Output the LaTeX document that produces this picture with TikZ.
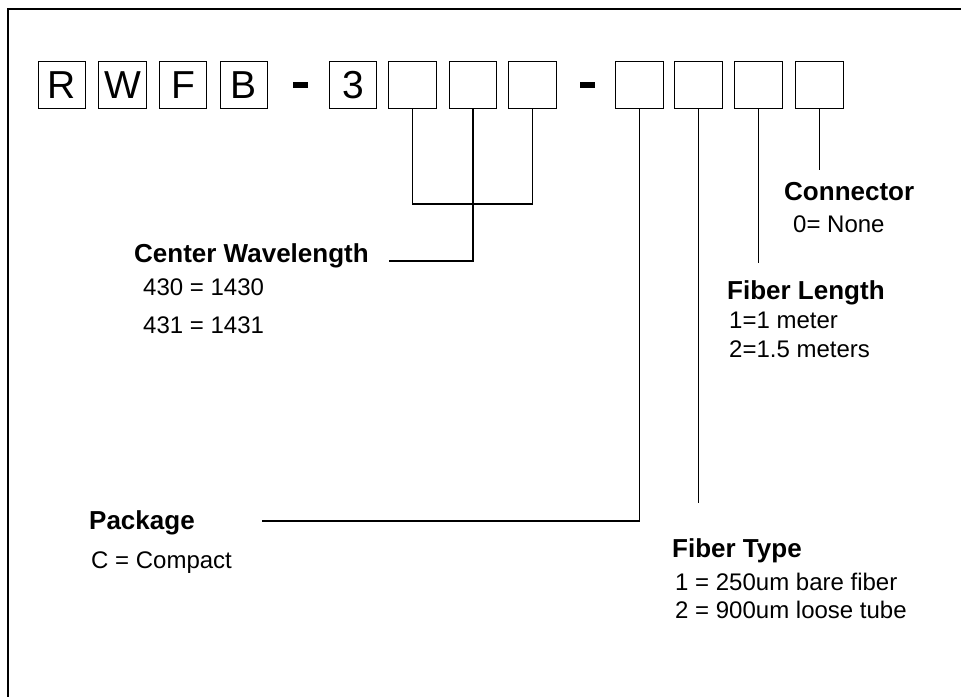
\documentclass[tikz,border=0pt]{standalone}
\usepackage{fontspec}
\setmainfont{Liberation Sans}
\begin{document}
\begin{tikzpicture}[x=1pt,y=-1pt,
  cell/.style={draw,line width=1.3pt,minimum width=47.5pt,minimum height=47.5pt,inner sep=0pt,font=\fontsize{39}{42}\selectfont},
  dashbar/.style={fill=black,minimum width=15pt,minimum height=6pt,inner sep=0pt},
  head/.style={anchor=base west,inner sep=0pt,font=\fontsize{26}{30}\selectfont\bfseries},
  body/.style={anchor=base west,inner sep=0pt,font=\fontsize{24}{28}\selectfont},
  wire/.style={line width=1.3pt}]
\useasboundingbox (0,0) rectangle (961,696);
\fill[white] (0,0) rectangle (961,696);
% frame
\draw[line width=2pt] (7.5,700) -- (7.5,8.5) -- (965,8.5);
% boxes
\node[cell] (r) at (62,85) {R};
\node[cell] (w) at (122.5,85) {W};
\node[cell] (f) at (183,85) {F};
\node[cell] (b) at (244,85) {B};
\node[dashbar] (d1) at (300.5,85) {};
\node[cell] (c3) at (353,85) {3};
\node[cell] (e1) at (412.5,85) {};
\node[cell] (e2) at (473,85) {};
\node[cell] (e3) at (532.5,85) {};
\node[dashbar] (d2) at (587,85) {};
\node[cell] (e4) at (639.5,85) {};
\node[cell] (e5) at (698.5,85) {};
\node[cell] (e6) at (758.5,85) {};
\node[cell] (e7) at (819.5,85) {};
% labels
\node[head] (cw) at (134,262) {Center Wavelength};
\node[body] (cw1) at (143,295) {430 = 1430};
\node[body] (cw2) at (143,333) {431 = 1431};
\node[head] (con) at (784,200) {Connector};
\node[body] (con1) at (793,232) {0= None};
\node[head] (fl) at (727,299) {Fiber Length};
\node[body] (fl1) at (729,328) {1=1 meter};
\node[body] (fl2) at (729,357) {2=1.5 meters};
\node[head] (pk) at (89,529) {Package};
\node[body] (pk1) at (91,568) {C = Compact};
\node[head] (ft) at (672,557) {Fiber Type};
\node[body] (ft1) at (675,590) {1 = 250um bare fiber};
\node[body] (ft2) at (675,618) {2 = 900um loose tube};
% connector ends
\coordinate (cwjoin) at (473,204);
\coordinate (cwend) at (389,261);
\coordinate (pkend) at (262,521);
\coordinate (ftend) at (698.5,503);
\coordinate (flend) at (758.5,263);
\coordinate (conend) at (819.5,170);
% connectors
\draw[wire] (e1.south) |- (cwjoin) -| (e3.south);
\draw[wire] (e2.south) |- (cwend);
\draw[wire] (e4.south) |- (pkend);
\draw[wire] (e5.south) -- (ftend);
\draw[wire] (e6.south) -- (flend);
\draw[wire] (e7.south) -- (conend);
\end{tikzpicture}
\end{document}
